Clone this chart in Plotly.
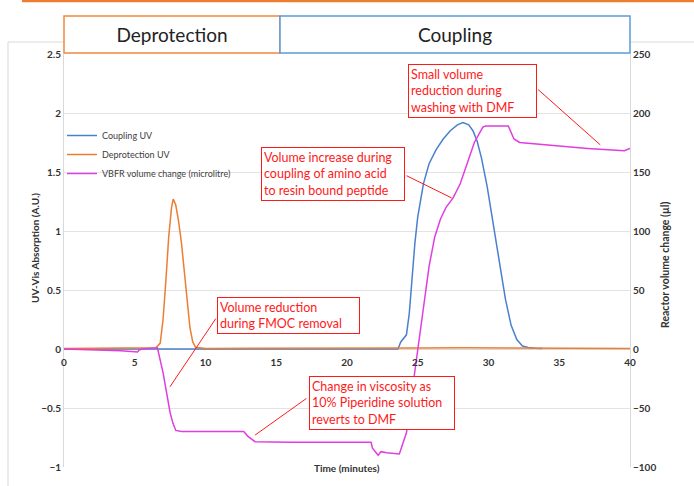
import plotly.graph_objects as go

# ---------------- data ----------------
dep_x = [0, 2, 4, 6, 6.5, 6.8, 7.0, 7.2, 7.4, 7.6, 7.72, 7.9, 8.1, 8.3, 8.5, 8.7, 8.9, 9.1, 9.3,
         10, 15, 20, 23.5, 25, 28, 30, 33, 35, 40]
dep_y = [0.005, 0.005, 0.005, 0.008, 0.01, 0.05, 0.25, 0.58, 0.95, 1.2, 1.27, 1.22, 1.08, 0.9,
         0.65, 0.4, 0.18, 0.06, 0.015, 0.005, 0.004, 0.004, 0.005, 0.008, 0.01, 0.009, 0.006,
         0.005, 0.005]

cpl_x = [0, 23.6, 23.8, 24.0, 24.2, 24.4, 24.6, 24.8, 25.0, 25.4, 25.8, 26.3, 26.8, 27.3, 27.8,
         28.2, 28.6, 28.9, 29.2, 29.5, 29.9, 30.3, 30.8, 31.2, 31.6, 32.0, 32.4, 32.8, 33.3, 33.8]
cpl_y = [0, 0, 0.06, 0.09, 0.12, 0.3, 0.6, 0.9, 1.12, 1.40, 1.57, 1.69, 1.78, 1.85, 1.9, 1.92,
         1.9, 1.85, 1.76, 1.62, 1.38, 1.08, 0.7, 0.42, 0.2, 0.08, 0.025, 0.012, 0.006, 0.005]

vol_x = [0, 2, 4, 5.2, 5.3, 5.5, 6.0, 6.6, 7.0, 7.3, 7.5, 7.7, 7.8, 7.9, 8.3, 10, 12.7, 13.0,
         13.5, 16, 20, 21.7, 21.8, 22.0, 22.2, 22.4, 22.8, 23.7, 23.9, 24.2, 24.6, 25.0, 25.4,
         25.8, 26.2, 26.6, 27.0, 27.5, 28.0, 28.5, 29.0, 29.6, 29.8, 31.4, 31.6, 31.8, 32.2, 33,
         35, 37, 38.8, 39.6, 40]
vol_y = [0, -0.5, -1.5, -2.5, -1, 0, 0.5, 1, -20, -40, -54, -63, -66, -69, -70, -70, -70, -74,
         -78.5, -79, -79, -79, -84, -87, -90, -87, -88, -89, -82, -71, -36, 0, 35, 70, 95, 110,
         120, 128, 140, 158, 175, 188, 189, 189, 183, 178, 175, 174, 172, 170, 168.5, 168, 170]

x_ticks = [0, 5, 10, 15, 20, 25, 30, 35, 40]
left_ticks = [-1, -0.5, 0, 0.5, 1, 1.5, 2, 2.5]
right_ticks = [-100, -50, 0, 50, 100, 150, 200, 250]

# callouts: text, box centre (x, y-left), leader tail (x, y), leader head (x, y), width
callout_text = [
    "Volume reduction<br>during FMOC removal",
    "Change in viscosity as<br>10% Piperidine solution<br>reverts to DMF",
    "Volume increase during<br>coupling of amino acid<br>to resin bound peptide",
    "Small volume<br>reduction during<br>washing with DMF",
]
callout_box = [(15.87, 0.288), (22.47, -0.458), (19.0, 1.479), (28.87, 2.186)]
callout_w = [137, 140, 138, 123]
leader_tail = [(10.8, 0.27), (17.24, -0.41), (24.1, 1.475), (33.4, 2.21)]
leader_head = [(7.49, -0.32), (13.5, -0.73), (27.4, 1.28), (37.9, 1.73)]

FONT = "Lato"
BLUE = "#4a80d0"
ORANGE = "#ed7d31"
MAGENTA = "#e03ee0"
RED = "#ff1a1a"
GRID = "#e3e3e3"

fig = go.Figure()
fig.add_trace(go.Scatter(x=cpl_x, y=cpl_y, mode="lines", name="Coupling UV",
                         line=dict(color=BLUE, width=1.5)))
fig.add_trace(go.Scatter(x=dep_x, y=dep_y, mode="lines", name="Deprotection UV",
                         line=dict(color=ORANGE, width=1.5)))
fig.add_trace(go.Scatter(x=vol_x, y=vol_y, mode="lines", name="VBFR volume change (microlitre)",
                         line=dict(color=MAGENTA, width=1.5), yaxis="y2"))

tickfont = dict(family=FONT, size=10, color="#333333", weight="bold")

W, H = 694, 486
L, R, T, B = 64, 64, 54, 19
pw, ph = W - L - R, H - T - B


def px_x(p):
    return (p - L) / pw


def px_y(p):
    return (H - B - p) / ph


fig.update_layout(
    width=W, height=H,
    margin=dict(l=L, r=R, t=T, b=B),
    paper_bgcolor="white", plot_bgcolor="white",
    font=dict(family=FONT),
    showlegend=True,
    legend=dict(x=px_x(62), y=px_y(121), xanchor="left", yanchor="top",
                bgcolor="rgba(0,0,0,0)", font=dict(family=FONT, size=9, color="#404040"),
                itemwidth=30, tracegroupgap=0),
    xaxis=dict(range=[0, 40], tickvals=x_ticks, showgrid=False, zeroline=False,
               showline=False, ticks="", tickfont=tickfont, ticklabelstandoff=6,
               anchor="free", position=1 / 3.5),
    yaxis=dict(range=[-1, 2.5], tickvals=left_ticks, showgrid=True, gridcolor=GRID,
               zeroline=True, zerolinecolor="#d9d9d9", zerolinewidth=1,
               showline=True, linecolor="#d9d9d9", ticks="", tickfont=tickfont),
    yaxis2=dict(range=[-100, 250], tickvals=right_ticks, overlaying="y", side="right",
                showgrid=False, zeroline=False, showline=True, linecolor="#d9d9d9",
                ticks="", tickfont=tickfont),
)

# outer chart border, top orange rule, section boxes
fig.add_shape(type="rect", xref="paper", yref="paper", x0=px_x(8), x1=px_x(720),
              y0=px_y(520), y1=px_y(42), line=dict(color="#d9d9d9", width=1),
              fillcolor="rgba(0,0,0,0)", layer="below")
fig.add_shape(type="line", xref="paper", yref="paper", x0=px_x(22), x1=px_x(700),
              y0=px_y(1), y1=px_y(1), line=dict(color=ORANGE, width=2.5))
fig.add_shape(type="rect", xref="paper", yref="paper", x0=px_x(64), x1=px_x(280),
              y0=px_y(53), y1=px_y(16), line=dict(color="#f0883c", width=1.5),
              fillcolor="white",
              label=dict(text="Deprotection", font=dict(family=FONT, size=19, color="#222222")))
fig.add_shape(type="rect", xref="paper", yref="paper", x0=px_x(280), x1=px_x(630),
              y0=px_y(53), y1=px_y(16), line=dict(color="#5b9bd5", width=1.5),
              fillcolor="white",
              label=dict(text="Coupling", font=dict(family=FONT, size=19, color="#222222")))

# axis titles
fig.add_annotation(text="UV-Vis Absorption (A.U.)", xref="paper", yref="paper",
                   x=px_x(27), y=px_y(248), textangle=-90, showarrow=False,
                   font=dict(family=FONT, size=10, color="#333333", weight="bold"))
fig.add_annotation(text="Reactor volume change (µl)", xref="paper", yref="paper",
                   x=px_x(673), y=px_y(265), textangle=-90, showarrow=False,
                   font=dict(family=FONT, size=10.5, color="#333333", weight="bold"))
fig.add_annotation(text="Time (minutes)", xref="paper", yref="paper",
                   x=0.5, y=px_y(476), showarrow=False,
                   font=dict(family=FONT, size=10, color="#333333", weight="bold"))

# callouts
for txt, (bx, by), w, (tx, ty), (hx, hy) in zip(callout_text, callout_box, callout_w,
                                                 leader_tail, leader_head):
    fig.add_annotation(x=hx, y=hy, ax=tx, ay=ty, xref="x", yref="y", axref="x", ayref="y",
                       text="", showarrow=True, arrowhead=0, arrowwidth=1, arrowcolor=RED,
                       standoff=0, startstandoff=0)
    fig.add_annotation(x=bx, y=by, xref="x", yref="y", text=txt, showarrow=False,
                       align="left", width=w, bgcolor="white", bordercolor=RED,
                       borderwidth=1, borderpad=2,
                       font=dict(family=FONT, size=12.5, color=RED))

fig.write_html("out.html", config={"displayModeBar": False},
               post_script="document.body.style.margin='0';")
